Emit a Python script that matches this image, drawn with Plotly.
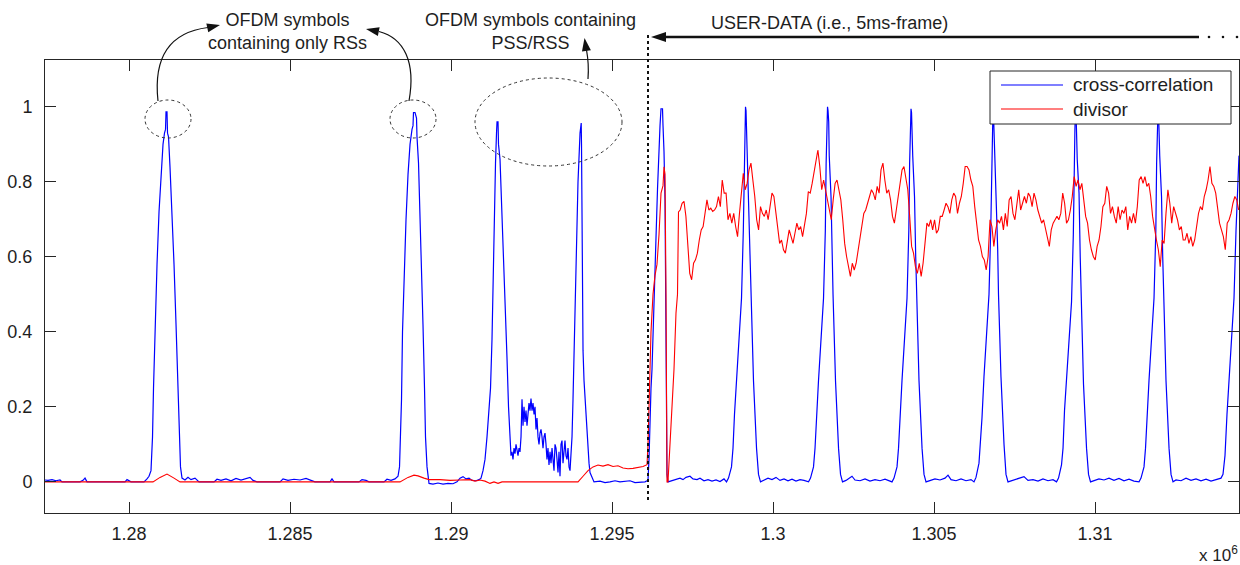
import math
import plotly.graph_objects as go

# ---------------- data (x in units of 10^6 samples) ----------------
x_ticks = [1.28, 1.285, 1.29, 1.295, 1.3, 1.305, 1.31]
x_tick_labels = ["1.28", "1.285", "1.29", "1.295", "1.3", "1.305", "1.31"]
y_ticks = [0, 0.2, 0.4, 0.6, 0.8, 1.0]
y_tick_labels = ["0", "0.2", "0.4", "0.6", "0.8", "1"]
x_range = [1.277391, 1.314472]
y_range = [-0.083, 1.125]

# cross-correlation before the user data (RS symbols, PSS/SSS symbols)
blue_pre_x = [
    1.277391, 1.277484, 1.277609, 1.277733, 1.277857, 1.277919, 1.278478, 1.278571, 1.278634, 1.278696,
    1.279876, 1.279938, 1.280062, 1.280466, 1.280559, 1.280621,
    1.280683, 1.280730, 1.280761, 1.280807, 1.280870, 1.280932, 1.280994, 1.281056, 1.281102, 1.281134,
    1.281149, 1.281180, 1.281196, 1.281227, 1.281273, 1.281335, 1.281398, 1.281460, 1.281522, 1.281553,
    1.281599, 1.281646,
    1.281739, 1.281832, 1.281925, 1.282050, 1.282174, 1.282640, 1.282733, 1.282857, 1.283012, 1.283168,
    1.283323, 1.283478, 1.283634, 1.283758, 1.283851, 1.283975, 1.284690, 1.284783, 1.284938, 1.285124,
    1.285311, 1.285497, 1.285652, 1.285776, 1.286242, 1.286304, 1.286367, 1.287143, 1.287236, 1.287360,
    1.287453, 1.287919, 1.288012, 1.288137, 1.288261, 1.288354,
    1.288401, 1.288432, 1.288463, 1.288494, 1.288540, 1.288603, 1.288665, 1.288727, 1.288789, 1.288820,
    1.288835, 1.288882, 1.288929, 1.288944, 1.288991, 1.289037, 1.289084, 1.289130, 1.289177, 1.289208,
    1.289255, 1.289317,
    1.289441, 1.289596, 1.289752, 1.289907, 1.290062, 1.290186, 1.290280, 1.290373, 1.290466, 1.290559,
    1.290652, 1.290776, 1.290870,
    1.290932, 1.290994, 1.291056, 1.291118, 1.291180, 1.291227, 1.291273, 1.291304, 1.291335, 1.291382,
    1.291413, 1.291429, 1.291460, 1.291475, 1.291522, 1.291584, 1.291646, 1.291708, 1.291739, 1.291786,
    1.291832,
    1.291863, 1.291894, 1.291925, 1.291957, 1.291988, 1.292019, 1.292050, 1.292081, 1.292112, 1.292143,
    1.292174, 1.292205, 1.292236, 1.292267, 1.292298, 1.292329, 1.292360, 1.292391, 1.292422, 1.292453,
    1.292484, 1.292516, 1.292547, 1.292578, 1.292609, 1.292640, 1.292671, 1.292702, 1.292733, 1.292764,
    1.292795, 1.292826, 1.292857, 1.292888, 1.292919, 1.292950, 1.292981, 1.293012, 1.293043, 1.293075,
    1.293106, 1.293137, 1.293168, 1.293199, 1.293230, 1.293261, 1.293292, 1.293323, 1.293354, 1.293385,
    1.293416, 1.293447, 1.293478, 1.293509, 1.293540, 1.293571, 1.293602, 1.293634, 1.293665, 1.293696,
    1.293727,
    1.293758, 1.293789, 1.293820, 1.293882, 1.293944, 1.294007, 1.294022, 1.294044, 1.294053, 1.294069,
    1.294100, 1.294131, 1.294162, 1.294193, 1.294224, 1.294255, 1.294286, 1.294317, 1.294379, 1.294441,
    1.294627, 1.294783, 1.294938, 1.295093, 1.295248, 1.295404, 1.295559, 1.295714, 1.295870, 1.296025,
    1.296087,
]
blue_pre_y = [
    0.005, 0.004, 0.006, 0.003, 0.005, 0.0, 0.0, 0.004, 0.01, 0.0,
    0.0, 0.006, 0.0, 0.0, 0.008, 0.015,
    0.03, 0.12, 0.25, 0.42, 0.58, 0.72, 0.82, 0.9, 0.93, 0.94,
    0.987, 0.987, 0.93, 0.92, 0.84, 0.72, 0.58, 0.42, 0.26, 0.15,
    0.04, 0.01,
    0.005, 0.012, 0.006, 0.01, 0.0, 0.0, 0.007, 0.004, 0.008, 0.003,
    0.009, 0.005, 0.01, 0.012, 0.004, 0.0, 0.0, 0.008, 0.004, 0.007,
    0.005, 0.009, 0.004, 0.0, 0.0, 0.008, 0.0, 0.0, 0.006, 0.004,
    0.0, 0.0, 0.007, 0.004, 0.008, 0.015,
    0.04, 0.12, 0.22, 0.4, 0.55, 0.7, 0.82, 0.9, 0.94, 0.95,
    0.985, 0.985, 0.97, 0.92, 0.85, 0.72, 0.58, 0.42, 0.25, 0.12,
    0.04, -0.004,
    -0.006, -0.003, -0.006, -0.004, -0.005, 0.0, 0.01, 0.014, 0.008, 0.01,
    0.004, 0.003, 0.006,
    0.01, 0.03, 0.06, 0.12, 0.2, 0.25, 0.38, 0.55, 0.7, 0.85,
    0.93, 0.96, 0.96, 0.9, 0.86, 0.72, 0.57, 0.42, 0.33, 0.2,
    0.09,
    0.07, 0.08, 0.06, 0.09, 0.075, 0.1, 0.085, 0.07, 0.09, 0.08,
    0.12, 0.22, 0.15, 0.2, 0.16, 0.19, 0.15, 0.19, 0.21, 0.19,
    0.222, 0.19, 0.21, 0.18, 0.2, 0.14, 0.17, 0.12, 0.1, 0.13,
    0.14, 0.12, 0.09, 0.12, 0.13, 0.1, 0.06, 0.09, 0.045, 0.08,
    0.05, 0.09, 0.06, 0.03, 0.1, 0.09, 0.06, 0.025, 0.08, 0.015,
    0.1, 0.11, 0.05, 0.09, 0.11, 0.07, 0.06, 0.09, 0.04, 0.03,
    0.07,
    0.12, 0.22, 0.35, 0.6, 0.8, 0.93, 0.957, 0.957, 0.9, 0.7,
    0.35, 0.27, 0.22, 0.17, 0.12, 0.08, 0.05, 0.025, 0.01, 0.0,
    0.002, -0.002, 0.0, 0.003, 0.0, 0.002, 0.003, -0.002, 0.0, 0.0,
    0.003,
]

# cross-correlation in the user-data part (5 ms frame)
blue_user_x = [
    1.296118, 1.296149, 1.296180, 1.296211, 1.296242, 1.296304, 1.296366, 1.296413, 1.296460, 1.296491,
    1.296522, 1.296568, 1.296584, 1.296615, 1.296646, 1.296677, 1.296692, 1.296708, 1.296739,
    1.296863, 1.296987, 1.297111, 1.297205, 1.297298, 1.297422, 1.297515, 1.297640, 1.297733, 1.297857,
    1.297981, 1.298106, 1.298230, 1.298354, 1.298478,
    1.298556, 1.298618, 1.298711, 1.298758, 1.298804, 1.298866, 1.299022, 1.299078, 1.299103, 1.299127,
    1.299146, 1.299162, 1.299199, 1.299255, 1.299292, 1.299317, 1.299394, 1.299488, 1.299550, 1.299612,
    1.299721, 1.299845, 1.299969, 1.300093, 1.300217, 1.300342, 1.300466, 1.300590, 1.300714, 1.300839,
    1.300963,
    1.301103, 1.301165, 1.301258, 1.301305, 1.301351, 1.301413, 1.301569, 1.301625, 1.301650, 1.301674,
    1.301693, 1.301709, 1.301730, 1.301746, 1.301802, 1.301839, 1.301864, 1.301941, 1.302035, 1.302097,
    1.302159,
    1.302267, 1.302391, 1.302453, 1.302546, 1.302702, 1.302857, 1.303012, 1.303168, 1.303323, 1.303478,
    1.303602,
    1.303696, 1.303758, 1.303851, 1.303898, 1.303944, 1.304006, 1.304162, 1.304218, 1.304243, 1.304267,
    1.304286, 1.304302, 1.304339, 1.304395, 1.304432, 1.304457, 1.304534, 1.304628, 1.304690, 1.304752,
    1.304876, 1.305031, 1.305186, 1.305342, 1.305435, 1.305528, 1.305683, 1.305839, 1.305994, 1.306149,
    1.306242, 1.306304, 1.306397, 1.306444, 1.306490, 1.306552, 1.306708, 1.306764, 1.306789, 1.306813,
    1.306832, 1.306848, 1.306885, 1.306941, 1.306978, 1.307003, 1.307080, 1.307174, 1.307236, 1.307298,
    1.307422, 1.307578, 1.307702, 1.307795, 1.307919, 1.308075, 1.308230, 1.308385, 1.308541, 1.308696,
    1.308805, 1.308867, 1.308960, 1.309007, 1.309053, 1.309115, 1.309271, 1.309327, 1.309352, 1.309376,
    1.309395, 1.309411, 1.309448, 1.309504, 1.309541, 1.309566, 1.309643, 1.309737, 1.309799, 1.309861,
    1.309969, 1.310124, 1.310280, 1.310435, 1.310590, 1.310745, 1.310901, 1.311056, 1.311211,
    1.311367, 1.311429, 1.311522, 1.311569, 1.311615, 1.311677, 1.311833, 1.311889, 1.311914, 1.311938,
    1.311957, 1.311973, 1.312010, 1.312066, 1.312103, 1.312128, 1.312205, 1.312299, 1.312361, 1.312423,
    1.312516, 1.312671, 1.312826, 1.312982, 1.313137, 1.313292, 1.313448, 1.313603, 1.313758, 1.313913,
    1.313975, 1.314037, 1.314099, 1.314161, 1.314317, 1.314379, 1.314441, 1.314472,
]
blue_user_y = [
    0.005, 0.06, 0.2, 0.25, 0.3, 0.45, 0.65, 0.78, 0.9, 0.95,
    0.995, 0.995, 0.95, 0.88, 0.75, 0.45, 0.2, 0.02, 0.0,
    0.003, 0.008, 0.01, 0.006, 0.012, 0.015, 0.008, 0.006, 0.01, 0.003,
    0.006, 0.002, 0.005, 0.001, 0.008,
    0.0, 0.01, 0.04, 0.09, 0.18, 0.27, 0.49, 0.67, 0.85, 0.94,
    1.0, 0.99, 0.87, 0.76, 0.6, 0.5, 0.27, 0.09, 0.02, 0.0,
    0.005, 0.01, 0.006, 0.012, 0.004, 0.008, 0.003, 0.007, 0.002, 0.006,
    0.004,
    0.0, 0.01, 0.04, 0.09, 0.18, 0.27, 0.49, 0.67, 0.85, 0.94,
    1.0, 0.99, 0.96, 0.87, 0.76, 0.6, 0.5, 0.27, 0.09, 0.02,
    0.0,
    0.004, 0.012, 0.015, 0.005, 0.003, 0.008, 0.002, 0.006, 0.003, 0.007,
    0.002,
    0.0, 0.01, 0.04, 0.09, 0.18, 0.27, 0.49, 0.67, 0.85, 0.94,
    0.995, 0.985, 0.87, 0.76, 0.6, 0.5, 0.27, 0.09, 0.02, 0.0,
    0.004, 0.008, 0.005, 0.01, 0.018, 0.006, 0.003, 0.008, 0.003, 0.006,
    0.0, 0.012, 0.05, 0.1, 0.17, 0.28, 0.5, 0.68, 0.84, 0.95,
    0.995, 0.98, 0.88, 0.75, 0.62, 0.5, 0.28, 0.1, 0.02, 0.0,
    0.004, 0.007, 0.012, 0.014, 0.004, 0.006, 0.002, 0.008, 0.003, 0.006,
    0.0, 0.01, 0.045, 0.09, 0.19, 0.27, 0.48, 0.66, 0.86, 0.94,
    0.995, 0.985, 0.86, 0.77, 0.6, 0.5, 0.26, 0.09, 0.02, 0.0,
    0.003, 0.008, 0.005, 0.01, 0.004, 0.009, 0.003, 0.007, 0.002,
    0.0, 0.01, 0.04, 0.09, 0.18, 0.27, 0.49, 0.67, 0.85, 0.94,
    0.995, 0.985, 0.87, 0.76, 0.6, 0.5, 0.27, 0.09, 0.02, 0.0,
    0.005, 0.003, 0.01, 0.004, 0.008, 0.003, 0.007, 0.002, 0.006, 0.01,
    0.02, 0.07, 0.18, 0.27, 0.49, 0.67, 0.8, 0.87,
]

# divisor before / at the start of the user data
red_pre_x = [
    1.277391, 1.280652, 1.280745, 1.280963, 1.281180, 1.281398, 1.281584, 1.288416, 1.288665, 1.288851,
    1.288975, 1.289162, 1.289317, 1.289658, 1.289969, 1.290280, 1.290590, 1.290745, 1.290901, 1.291056,
    1.291211, 1.291335, 1.291460, 1.291584, 1.293944, 1.294100, 1.294255, 1.294410, 1.294565, 1.294720,
    1.294876, 1.295031, 1.295186, 1.295342, 1.295497, 1.295652, 1.295808, 1.295963, 1.296087, 1.296118,
    1.296149, 1.296211, 1.296273, 1.296335, 1.296397, 1.296460, 1.296522, 1.296553, 1.296584, 1.296615,
    1.296646, 1.296677, 1.296708, 1.296739, 1.296801, 1.296863, 1.296925, 1.296987, 1.297034, 1.297065,
]
red_pre_y = [
    0.0, 0.0, 0.0, 0.012, 0.021, 0.01, 0.0, 0.0, 0.012, 0.018,
    0.016, 0.01, 0.006, 0.006, 0.004, 0.005, 0.006, 0.002, 0.005, 0.002,
    -0.004, 0.0, -0.004, 0.0, 0.0, 0.015, 0.03, 0.04, 0.045, 0.042,
    0.046, 0.041, 0.043, 0.037, 0.035, 0.036, 0.038, 0.041, 0.046, 0.1,
    0.2, 0.4, 0.5, 0.55, 0.58, 0.66, 0.77, 0.78, 0.79, 0.84,
    0.82, 0.5, 0.0, 0.0, 0.1, 0.22, 0.3, 0.45, 0.5, 0.72,
]

# divisor over the user data, read at a regular sample spacing
red_user_x0 = 1.297117
red_user_dx = 0.0000594
red_user_y = [
    0.725, 0.743, 0.748, 0.708, 0.628, 0.556, 0.539, 0.583, 0.592, 0.610,
    0.645, 0.672, 0.681, 0.725, 0.752, 0.725, 0.730, 0.721, 0.725, 0.734,
    0.761, 0.734, 0.805, 0.770, 0.770, 0.699, 0.716, 0.690, 0.716, 0.681,
    0.654, 0.716, 0.779, 0.823, 0.779, 0.796, 0.832, 0.850, 0.805, 0.761,
    0.699, 0.672, 0.734, 0.716, 0.708, 0.725, 0.699, 0.734, 0.770, 0.761,
    0.716, 0.672, 0.636, 0.645, 0.619, 0.610, 0.636, 0.672, 0.654, 0.636,
    0.663, 0.690, 0.672, 0.681, 0.654, 0.681, 0.716, 0.774, 0.770, 0.796,
    0.823, 0.850, 0.885, 0.841, 0.779, 0.805, 0.779, 0.752, 0.725, 0.699,
    0.752, 0.796, 0.805, 0.779, 0.752, 0.699, 0.636, 0.601, 0.574, 0.548,
    0.583, 0.565, 0.583, 0.619, 0.654, 0.690, 0.716, 0.725, 0.743, 0.761,
    0.779, 0.770, 0.752, 0.788, 0.770, 0.832, 0.850, 0.805, 0.770, 0.779,
    0.752, 0.708, 0.690, 0.725, 0.761, 0.805, 0.832, 0.841, 0.814, 0.779,
    0.708, 0.628, 0.610, 0.574, 0.556, 0.583, 0.548, 0.583, 0.636, 0.690,
    0.681, 0.699, 0.672, 0.699, 0.663, 0.672, 0.708, 0.708, 0.725, 0.743,
    0.734, 0.716, 0.752, 0.770, 0.761, 0.716, 0.743, 0.761, 0.796, 0.841,
    0.841, 0.832, 0.805, 0.788, 0.734, 0.690, 0.645, 0.628, 0.601, 0.592,
    0.565, 0.601, 0.699, 0.681, 0.628, 0.672, 0.699, 0.690, 0.708, 0.672,
    0.716, 0.681, 0.752, 0.761, 0.716, 0.699, 0.734, 0.779, 0.725, 0.743,
    0.761, 0.743, 0.770, 0.761, 0.734, 0.770, 0.752, 0.725, 0.708, 0.690,
    0.699, 0.672, 0.645, 0.628, 0.672, 0.690, 0.699, 0.708, 0.699, 0.716,
    0.770, 0.743, 0.690, 0.699, 0.725, 0.761, 0.814, 0.788, 0.805, 0.779,
    0.796, 0.752, 0.708, 0.690, 0.645, 0.619, 0.601, 0.592, 0.628, 0.645,
    0.681, 0.734, 0.743, 0.788, 0.770, 0.716, 0.734, 0.708, 0.690, 0.734,
    0.699, 0.725, 0.716, 0.734, 0.672, 0.708, 0.690, 0.716, 0.690, 0.734,
    0.805, 0.814, 0.796, 0.814, 0.788, 0.796, 0.761, 0.708, 0.672, 0.645,
    0.619, 0.574, 0.645, 0.636, 0.716, 0.779, 0.743, 0.690, 0.734, 0.716,
    0.699, 0.672, 0.681, 0.645, 0.645, 0.663, 0.636, 0.654, 0.628, 0.645,
    0.681, 0.716, 0.734, 0.725, 0.761, 0.779, 0.805, 0.841, 0.796, 0.788,
    0.770, 0.734, 0.690, 0.672, 0.654, 0.619, 0.690, 0.699, 0.716, 0.743,
    0.761, 0.752, 0.725,
]

series_names = ["cross-correlation", "divisor"]
series_colors = ["#0000ff", "#ff0000"]

# ---------------- figure ----------------
blue_x = blue_pre_x + blue_user_x
blue_y = blue_pre_y + blue_user_y
red_user_x = [red_user_x0 + i * red_user_dx for i in range(len(red_user_y))]
red_x = red_pre_x + red_user_x
red_y = red_pre_y + red_user_y

FONT = "Liberation Sans, Arial, Helvetica, sans-serif"
INK = "#1e1e1e"

fig = go.Figure()
fig.add_trace(go.Scatter(x=blue_x, y=blue_y, mode="lines", name=series_names[0],
                         line=dict(color=series_colors[0], width=1.2), hoverinfo="skip"))
fig.add_trace(go.Scatter(x=red_x, y=red_y, mode="lines", name=series_names[1],
                         line=dict(color=series_colors[1], width=1.1), hoverinfo="skip"))

# plot-area geometry in pixels (used only for decorations)
PL, PR, PT, PB = 45, 1239, 60, 513
W, H = 1240, 565


def X(p):
    return (p - PL) / (PR - PL)


def Y(p):
    return (PB - p) / (PB - PT)


def pt(x, y):
    return f"{X(x):.5f},{Y(y):.5f}"


def head(tx, ty, dx, dy, L=13, Wd=9):
    n = math.hypot(dx, dy)
    ux, uy = dx / n, dy / n
    bx, by = tx - ux * L, ty - uy * L
    p1 = (bx - uy * Wd / 2, by + ux * Wd / 2)
    p2 = (bx + uy * Wd / 2, by - ux * Wd / 2)
    return f"M{pt(tx, ty)} L{pt(*p1)} L{pt(*p2)} Z"


shapes = []
dot = dict(color="#333333", width=1, dash="dot")
# dotted circles / ellipse
shapes.append(dict(type="circle", xref="paper", yref="paper", x0=X(145), x1=X(191), y0=Y(138), y1=Y(100), line=dot))
shapes.append(dict(type="circle", xref="paper", yref="paper", x0=X(390), x1=X(436), y0=Y(138), y1=Y(100), line=dot))
shapes.append(dict(type="circle", xref="paper", yref="paper", x0=X(475), x1=X(622), y0=Y(166), y1=Y(78), line=dot))
# curved arrows
arrow_line = dict(color="#111111", width=1.2)
shapes.append(dict(type="path", xref="paper", yref="paper",
                   path=f"M{pt(158,101)} C{pt(153,55)} {pt(172,32)} {pt(208,27.5)}", line=arrow_line))
shapes.append(dict(type="path", xref="paper", yref="paper",
                   path=f"M{pt(409,101)} C{pt(416,62)} {pt(404,38)} {pt(379,31.5)}", line=arrow_line))
shapes.append(dict(type="path", xref="paper", yref="paper",
                   path=f"M{pt(588,79)} C{pt(589,66)} {pt(588,58)} {pt(586.5,50)}", line=arrow_line))
for tx, ty, dx, dy in [(220, 25, 1, -0.22), (366, 29, -1, -0.2), (584.5, 38, -0.15, -1)]:
    shapes.append(dict(type="path", xref="paper", yref="paper", path=head(tx, ty, dx, dy, 13, 9),
                       fillcolor="#111111", line=dict(width=0)))
# USER-DATA arrow
shapes.append(dict(type="line", xref="paper", yref="paper", x0=X(664), x1=X(1199), y0=Y(37), y1=Y(37),
                   line=dict(color="#111111", width=2.4)))
shapes.append(dict(type="path", xref="paper", yref="paper", path=head(651, 37, -1, 0, 15, 10),
                   fillcolor="#111111", line=dict(width=0)))
for cx in [1209, 1223, 1237]:
    shapes.append(dict(type="circle", xref="paper", yref="paper", x0=X(cx - 1.3), x1=X(cx + 1.3),
                       y0=Y(38.3), y1=Y(35.7), fillcolor="#111111", line=dict(width=0)))
# dotted separator
shapes.append(dict(type="line", xref="paper", yref="paper", x0=X(648), x1=X(648), y0=Y(500), y1=Y(33),
                   line=dict(color="#111111", width=2, dash="dot")))
# legend box
shapes.append(dict(type="rect", xref="paper", yref="paper", x0=X(990), x1=X(1231), y0=Y(124), y1=Y(71),
                   fillcolor="white", line=dict(color="#262626", width=1)))
shapes.append(dict(type="line", xref="paper", yref="paper", x0=X(1001), x1=X(1063), y0=Y(85), y1=Y(85),
                   line=dict(color=series_colors[0], width=1.2)))
shapes.append(dict(type="line", xref="paper", yref="paper", x0=X(1001), x1=X(1063), y0=Y(109), y1=Y(109),
                   line=dict(color=series_colors[1], width=1.2)))

ann_font = dict(family=FONT, size=18, color=INK)
leg_font = dict(family=FONT, size=19, color=INK)
annotations = [
    dict(text="OFDM symbols<br>containing only RSs", x=X(287), y=Y(32), xref="paper", yref="paper",
         showarrow=False, xanchor="center", yanchor="middle", font=ann_font),
    dict(text="OFDM symbols containing<br>PSS/RSS", x=X(530), y=Y(32), xref="paper", yref="paper",
         showarrow=False, xanchor="center", yanchor="middle", font=ann_font),
    dict(text="USER-DATA (i.e., 5ms-frame)", x=X(829), y=Y(23), xref="paper", yref="paper",
         showarrow=False, xanchor="center", yanchor="middle", font=ann_font),
    dict(text=series_names[0], x=X(1071), y=Y(85), xref="paper", yref="paper",
         showarrow=False, xanchor="left", yanchor="middle", font=leg_font),
    dict(text=series_names[1], x=X(1071), y=Y(109), xref="paper", yref="paper",
         showarrow=False, xanchor="left", yanchor="middle", font=leg_font),
    dict(text="x 10<sup>6</sup>", x=X(1240), y=Y(554), xref="paper", yref="paper",
         showarrow=False, xanchor="right", yanchor="middle", font=dict(family=FONT, size=17, color=INK)),
]

axis_common = dict(showline=True, linecolor="#262626", linewidth=1, mirror="ticks", ticks="inside",
                   ticklen=11, tickwidth=1, tickcolor="#262626", showgrid=False, zeroline=False,
                   tickfont=dict(family=FONT, size=18, color=INK))

fig.update_layout(
    width=W, height=H,
    margin=dict(l=PL, r=W - PR, t=PT, b=H - PB, autoexpand=False),
    paper_bgcolor="white", plot_bgcolor="white",
    showlegend=False,
    shapes=shapes, annotations=annotations,
    xaxis=dict(range=x_range, tickvals=x_ticks, ticktext=x_tick_labels, ticklabelstandoff=4, **axis_common),
    yaxis=dict(range=y_range, tickvals=y_ticks, ticktext=y_tick_labels, ticklabelstandoff=8, **axis_common),
)

fig.write_html("out.html", config={"displayModeBar": False, "staticPlot": True},
               post_script="document.body.style.margin='0';document.body.style.overflow='hidden';")
